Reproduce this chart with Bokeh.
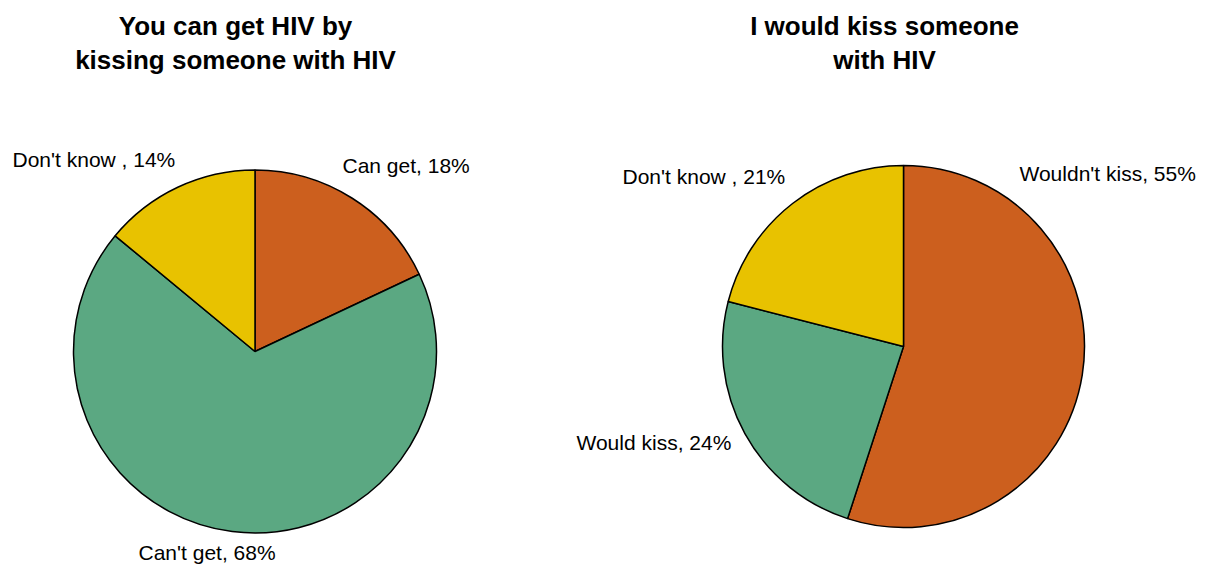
import numpy as np
from bokeh.plotting import figure
from bokeh.models import Range1d
from bokeh.core.properties import value
from bokeh.embed import file_html
from bokeh.resources import INLINE

# Survey answers, clockwise from 12 o'clock
kiss_risk_labels = ["Can get", "Can't get", "Don't know "]
kiss_risk_values = [18, 68, 14]

would_kiss_labels = ["Wouldn't kiss", "Would kiss", "Don't know "]
would_kiss_values = [55, 24, 21]

slice_colors = ["#CC5F1E", "#5BA882", "#E8C200"]

titles = [
    ["You can get HIV by", "kissing someone with HIV"],
    ["I would kiss someone", "with HIV"],
]

W, H = 1207, 565
FONT = "Liberation Sans"
TEXT_SHIFT = 9  # the svg backend sits alphabetic text a little low

p = figure(width=W, height=H, output_backend="svg", toolbar_location=None,
           x_range=Range1d(0, W), y_range=Range1d(0, H), min_border=0,
           outline_line_color=None)
p.axis.visible = False
p.grid.visible = False


def up(y):
    # page coordinates measured from the top
    return H - y


def draw_pie(cx, cy, r, values, colors):
    frac = np.array(values, dtype=float) / np.sum(values)
    ends = np.pi / 2 - 2 * np.pi * np.cumsum(frac)
    starts = np.concatenate([[np.pi / 2], ends[:-1]])
    p.wedge(x=[cx] * len(values), y=[up(cy)] * len(values), radius=r,
            radius_units="screen", start_angle=starts, end_angle=ends,
            direction="clock", fill_color=colors, line_color="black",
            line_width=1.5)


def label(x, y, text, size="21px", bold=False, align="left"):
    p.text(x=[x], y=[up(y - TEXT_SHIFT)], text=[text], text_font=value(FONT),
           text_font_size=size, text_font_style="bold" if bold else "normal",
           text_align=align, text_baseline="alphabetic", text_color="black")


def pct(lbl, v):
    return f"{lbl}, {v}%"


# Left pie
draw_pie(254.5, 351, 181.5, kiss_risk_values, slice_colors)
label(342, 174, pct(kiss_risk_labels[0], kiss_risk_values[0]))
label(138, 561, pct(kiss_risk_labels[1], kiss_risk_values[1]))
label(12, 168, pct(kiss_risk_labels[2], kiss_risk_values[2]))

# Right pie
draw_pie(903, 346, 181, would_kiss_values, slice_colors)
label(1019, 182, pct(would_kiss_labels[0], would_kiss_values[0]))
label(576, 451, pct(would_kiss_labels[1], would_kiss_values[1]))
label(622, 185, pct(would_kiss_labels[2], would_kiss_values[2]))

# Titles
for cx, lines in zip([235, 884], titles):
    for i, line in enumerate(lines):
        label(cx, 34 + 34 * i, line, size="26px", bold=True, align="center")

open("out.html", "w").write(file_html(p, INLINE))
